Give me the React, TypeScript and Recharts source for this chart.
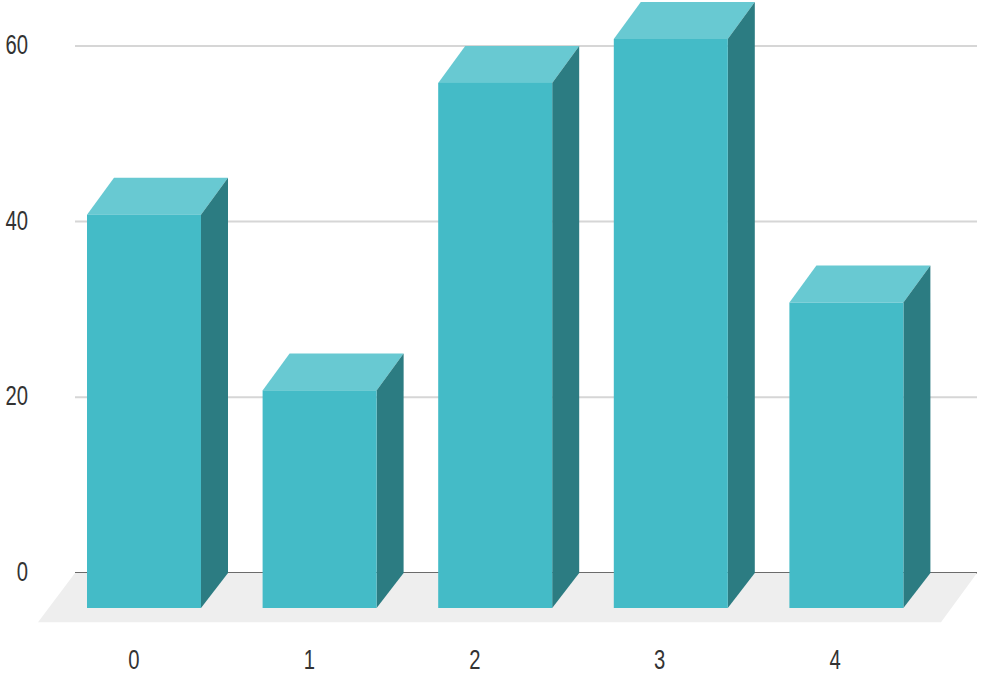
import React from "react";
import { BarChart, Bar, XAxis, YAxis, CartesianGrid, ReferenceArea } from "recharts";

const categories = ["0", "1", "2", "3", "4"];
const values = [45, 25, 60, 65, 35];
const yTicks = [0, 20, 40, 60];
const tickNudge = [-37, -37, -47, -38, -38];

const data = categories.map((name, i) => ({ name, value: values[i] }));

const DX = 27;
const DY = 37;
const BASE_DY = 35;
const FRONT = "#44bbc7";
const TOP = "#68c9d2";
const SIDE = "#2c7c82";
const FONT = "'Liberation Sans', sans-serif";

const Box = (props: any) => {
  const { x, y, width, height } = props;
  const fx = x - DX;
  const fy = y + DY;
  const baseBack = y + height;
  const baseFront = baseBack + BASE_DY;
  return (
    <g>
      <polygon points={`${fx},${fy} ${x},${y} ${x + width},${y} ${fx + width},${fy}`} fill={TOP} />
      <polygon
        points={`${fx + width},${fy} ${x + width},${y} ${x + width},${baseBack} ${fx + width},${baseFront}`}
        fill={SIDE}
      />
      <rect x={fx} y={fy} width={width} height={baseFront - fy} fill={FRONT} />
    </g>
  );
};

const Floor = (props: any) => {
  const { x, y, width, height } = props;
  const top = y;
  const bottom = y + height;
  return (
    <polygon
      points={`${x - 8},${top} ${x + width + 16},${top} ${x + width - 20},${bottom} ${x - 45},${bottom}`}
      fill="#eeeeee"
    />
  );
};

const GridLine = (props: any) => {
  const { x1, x2, y1, y2, index } = props;
  if (y1 < 10) return <g key={index} />;
  const isZero = Math.abs(y1 - 573) < 2;
  return (
    <line
      key={index}
      x1={x1}
      x2={x2}
      y1={y1}
      y2={y2}
      stroke={isZero ? "#3a3a3a" : "#d6d6d6"}
      strokeWidth={isZero ? 1.5 : 2}
    />
  );
};

const XTick = (props: any) => {
  const { x, y, payload, index } = props;
  return (
    <text
      transform={`translate(${x + tickNudge[index]},${y + 88}) scale(0.75,1)`}
      textAnchor="middle"
      fontFamily={FONT}
      fontSize={27}
      fill="#333"
    >
      {payload.value}
    </text>
  );
};

const YTick = (props: any) => {
  const { y, payload } = props;
  return (
    <text
      transform={`translate(28,${y + 8}) scale(0.75,1)`}
      textAnchor="end"
      fontFamily={FONT}
      fontSize={27}
      fill="#333"
    >
      {payload.value}
    </text>
  );
};

export default function App() {
  return (
    <div style={{ position: "absolute", left: 0, top: 0, width: 981, height: 674, background: "#fff" }}>
      <BarChart
        width={981}
        height={674}
        data={data}
        margin={{ top: 2, right: 4, bottom: 0, left: 0 }}
        barSize={114}
      >
        <ReferenceArea y1={0} y2={-5.6} ifOverflow="visible" shape={Floor} />
        <CartesianGrid vertical={false} horizontal={GridLine as any} />
        <XAxis
          dataKey="name"
          axisLine={false}
          tickLine={false}
          height={101}
          padding={{ left: 8, right: 16 }}
          tick={<XTick />}
          interval={0}
        />
        <YAxis
          domain={[0, 65]}
          ticks={yTicks}
          axisLine={false}
          tickLine={false}
          width={75}
          tick={<YTick />}
        />
        <Bar dataKey="value" shape={Box} isAnimationActive={false} />
      </BarChart>
    </div>
  );
}
